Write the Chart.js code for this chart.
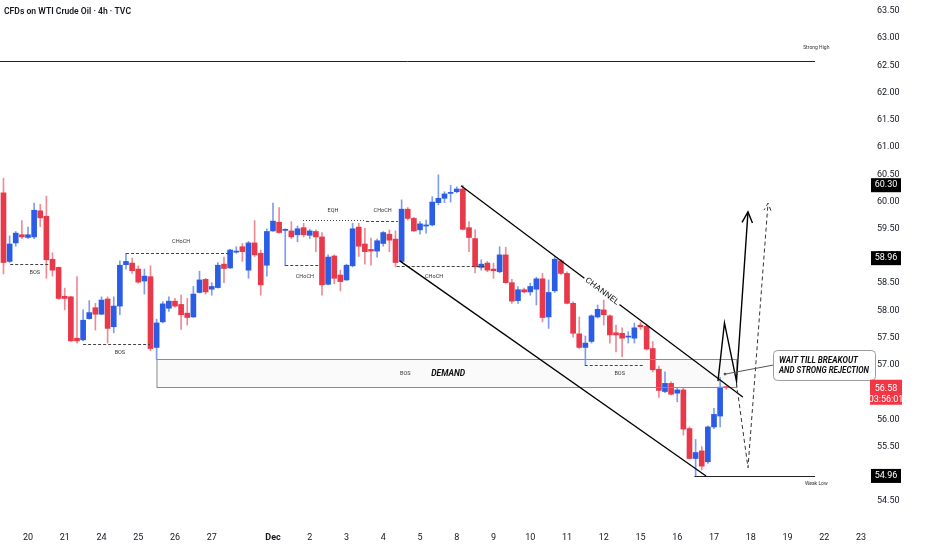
<!DOCTYPE html>
<html>
<head>
<meta charset="utf-8">
<title>CFDs on WTI Crude Oil · 4h · TVC</title>
<script src="https://cdn.jsdelivr.net/npm/chart.js@4.4.1/dist/chart.umd.min.js"></script>
<style>
  html, body { margin: 0; padding: 0; background: #fff; }
  #wrap { width: 932px; height: 550px; }
</style>
</head>
<body>
<div id="wrap"><canvas id="chart" width="932" height="550"></canvas></div>
<script>
// 4h candles, numbered 1..119 from the first bar on screen
const opens = [
  60.16, 58.90, 59.24, 59.39, 59.34, 59.35, 59.83, 59.73, 58.94, 58.79,
  58.26, 58.25, 57.49, 57.46, 57.85, 58.05, 57.93, 58.21, 57.70, 58.08,
  58.84, 58.87, 58.76, 58.54, 58.62, 57.32, 57.79, 58.04, 58.17, 58.11,
  57.95, 57.88, 58.33, 58.57, 58.39, 58.42, 58.85, 58.78, 59.07, 59.17,
  58.74, 59.24, 59.05, 58.83, 59.46, 59.62, 59.47, 59.46, 59.39, 59.52,
  59.38, 59.45, 59.35, 58.48, 59.00, 58.65, 58.56, 58.82, 59.53, 59.22,
  59.12, 59.09, 59.23, 59.40, 59.31, 58.90, 59.86, 59.69, 59.48, 59.55,
  59.57, 59.98, 60.06, 60.15, 60.18, 60.23, 59.52, 59.32, 58.79, 58.87,
  58.76, 58.71, 59.02, 58.51, 58.18, 58.38, 58.34, 58.39, 58.58, 57.88,
  58.36, 58.91, 58.68, 58.13, 57.57, 57.32, 57.43, 57.88, 58.01, 57.90,
  57.59, 57.58, 57.51, 57.49, 57.73, 57.71, 57.30, 56.92, 56.51, 56.66,
  56.48, 56.54, 55.83, 55.28, 55.42, 55.22, 55.86, 56.06, 56.60
];
const highs = [
  60.43, 59.37, 59.45, 59.65, 59.53, 59.97, 59.95, 60.10, 59.06, 58.80,
  58.41, 58.26, 58.62, 58.01, 58.18, 58.13, 58.25, 58.25, 58.25, 58.91,
  59.05, 58.96, 58.82, 58.76, 58.82, 57.84, 58.16, 58.25, 58.22, 58.28,
  58.22, 58.44, 58.72, 58.59, 58.51, 58.88, 58.98, 59.12, 59.17, 59.23,
  59.27, 59.65, 59.11, 59.50, 59.97, 59.89, 59.50, 59.63, 59.55, 59.60,
  59.49, 59.48, 59.43, 59.02, 59.02, 58.74, 58.85, 59.60, 59.60, 59.51,
  59.33, 59.31, 59.45, 59.48, 59.46, 60.03, 59.89, 59.71, 59.63, 59.66,
  60.09, 60.49, 60.18, 60.30, 60.27, 60.30, 59.63, 59.48, 58.93, 58.90,
  58.87, 59.17, 59.16, 58.57, 58.44, 58.41, 58.50, 58.61, 58.68, 58.56,
  58.99, 58.94, 58.71, 58.16, 57.88, 57.53, 57.92, 58.10, 58.19, 57.92,
  57.73, 57.68, 57.61, 57.77, 57.78, 57.75, 57.43, 56.98, 56.87, 56.69,
  56.57, 56.57, 55.86, 55.63, 55.50, 55.88, 56.20, 56.77, 56.61
];
const lows = [
  58.67, 58.88, 59.18, 59.32, 59.32, 59.32, 59.54, 58.59, 58.63, 58.20,
  58.01, 57.43, 57.40, 57.44, 57.84, 57.64, 57.92, 57.40, 57.59, 57.92,
  58.76, 58.68, 58.50, 58.30, 57.26, 57.10, 57.77, 57.98, 58.06, 57.65,
  57.73, 57.87, 58.32, 58.30, 58.28, 58.41, 58.51, 58.77, 59.05, 58.90,
  58.59, 58.99, 58.28, 58.63, 59.45, 59.42, 58.82, 59.32, 59.26, 59.35,
  59.32, 59.08, 58.28, 58.47, 58.49, 58.36, 58.55, 58.80, 58.99, 58.85,
  58.83, 58.98, 59.18, 59.08, 58.80, 58.88, 59.66, 59.45, 59.40, 59.42,
  59.55, 59.94, 59.98, 59.99, 60.16, 59.48, 59.08, 58.69, 58.74, 58.71,
  58.59, 58.69, 58.50, 58.13, 58.13, 58.32, 58.28, 58.10, 57.79, 57.67,
  58.33, 58.66, 58.12, 57.51, 57.30, 57.00, 57.40, 57.86, 57.73, 57.40,
  57.24, 57.15, 57.40, 57.40, 57.65, 57.27, 56.87, 56.40, 56.49, 56.45,
  56.32, 55.71, 55.27, 54.96, 55.07, 55.19, 55.83, 55.86, 56.55
];
const closes = [
  58.88, 59.22, 59.42, 59.35, 59.39, 59.84, 59.70, 58.93, 58.74, 58.22,
  58.22, 57.44, 57.44, 57.82, 57.96, 57.93, 58.19, 57.67, 58.08, 58.83,
  58.90, 58.73, 58.52, 58.63, 57.30, 57.77, 58.12, 58.17, 58.08, 57.92,
  57.87, 58.30, 58.56, 58.34, 58.44, 58.83, 58.77, 59.11, 59.09, 59.08,
  59.24, 59.02, 58.47, 59.45, 59.64, 59.43, 59.49, 59.35, 59.50, 59.39,
  59.46, 59.35, 58.47, 58.98, 58.59, 58.53, 58.83, 59.50, 59.18, 59.08,
  59.09, 59.28, 59.43, 59.29, 58.88, 59.86, 59.69, 59.46, 59.59, 59.57,
  59.99, 60.06, 60.14, 60.16, 60.23, 59.49, 59.34, 58.80, 58.85, 58.74,
  58.73, 59.02, 58.51, 58.17, 58.38, 58.34, 58.44, 58.58, 57.87, 58.33,
  58.94, 58.68, 58.13, 57.58, 57.32, 57.40, 57.90, 58.02, 57.92, 57.55,
  57.55, 57.49, 57.52, 57.68, 57.70, 57.29, 56.91, 56.53, 56.66, 56.46,
  56.54, 55.82, 55.28, 55.39, 55.14, 55.86, 56.09, 56.59, 56.58
];

// time axis: bar number where each day label sits
const dayTicks = [5, 11, 17, 23, 29, 35, 45, 51, 57, 63, 69, 75, 81, 87, 93, 99, 105, 111, 117, 123, 129, 135, 141];
const dayLabels = ['20', '21', '24', '25', '26', '27', 'Dec', '2', '3', '4', '5', '8', '9', '10', '11', '12', '15', '16', '17', '18', '19', '22', '23'];
const priceTicks = [54.5, 55, 55.5, 56, 56.5, 57, 57.5, 58, 58.5, 59, 59.5, 60, 60.5, 61, 61.5, 62, 62.5, 63, 63.5];

// marked prices on the right scale
const markedPrices = [60.30, 58.96, 54.96];
const lastPrice = 56.58;
const countdown = '03:56:01';

// drawings, in (bar number, price)
const strongHigh = { from: 0.43, to: 133.5, price: 62.58, text: 'Strong High', tx: 133.7, ty: 62.82 };
const weakLow = { from: 113.8, to: 133.5, price: 54.96, text: 'Weak Low', tx: 133.7, ty: 54.81 };
const demandZone = { from: 26.06, to: 120.7, top: 57.10, bottom: 56.59 };
const structureLevels = [
  { from: 2.1, to: 8.6, price: 58.85, dot: false, text: 'BOS', tx: 6.1, ty: 58.69 },
  { from: 14.0, to: 24.9, price: 57.39, dot: false, text: 'BOS', tx: 20.0, ty: 57.22 },
  { from: 21.0, to: 38.0, price: 59.05, dot: false, text: 'CHoCH', tx: 30.0, ty: 59.26 },
  { from: 47.0, to: 52.4, price: 58.83, dot: false, text: 'CHoCH', tx: 50.2, ty: 58.63 },
  { from: 49.9, to: 60.2, price: 59.66, dot: true, text: 'EQH', tx: 54.8, ty: 59.83 },
  { from: 60.2, to: 65.4, price: 59.64, dot: false, text: 'CHoCH', tx: 62.9, ty: 59.83 },
  { from: 65.2, to: 79.6, price: 58.81, dot: false, text: 'CHoCH', tx: 71.3, ty: 58.63 },
  { from: 95.9, to: 105.7, price: 57.00, dot: false, text: 'BOS', tx: 101.6, ty: 56.83 }
];
const channelUpper = [[75.7, 60.29], [121.7, 56.41]];
const channelLower = [[65.7, 58.91], [115.7, 54.96]];
const pathBreakout = [[117.65, 56.70], [118.71, 57.77], [120.67, 56.70], [122.55, 59.81]];
const pathSweep = [[120.67, 56.66], [122.55, 55.11], [125.82, 59.97]];
const callout = { from: 126.63, to: 143.29, top: 57.27, bottom: 56.72, lines: ['WAIT TILL BREAKOUT', 'AND STRONG REJECTION'], pointTo: [118.8, 56.83] };

const BULL = '#2b5ce6', BEAR = '#e8394a';
const BULL_WICK = '#7f9df0', BEAR_WICK = '#f08a94';
const TEXT = '#131722';

function isBull(i) { return closes[i] >= opens[i]; }

// text squeezed or stretched to a given width, like the condensed TV font
function putText(ctx, text, x, y, font, color, width, align) {
  ctx.save();
  ctx.font = font;
  ctx.fillStyle = color;
  ctx.textBaseline = 'middle';
  ctx.textAlign = align || 'center';
  const w = ctx.measureText(text).width;
  ctx.translate(x, y);
  if (width) ctx.scale(width / w, 1);
  ctx.fillText(text, 0, 0);
  ctx.restore();
}

function polyline(ctx, pts) {
  ctx.beginPath();
  pts.forEach((p, i) => i ? ctx.lineTo(p[0], p[1]) : ctx.moveTo(p[0], p[1]));
  ctx.stroke();
}

function arrowHead(ctx, from, tip, len) {
  const a = Math.atan2(tip[1] - from[1], tip[0] - from[0]);
  ctx.beginPath();
  ctx.moveTo(tip[0] - len * Math.cos(a - 0.45), tip[1] - len * Math.sin(a - 0.45));
  ctx.lineTo(tip[0], tip[1]);
  ctx.lineTo(tip[0] - len * Math.cos(a + 0.45), tip[1] - len * Math.sin(a + 0.45));
  ctx.stroke();
}

const drawings = {
  id: 'drawings',
  beforeDatasetsDraw(chart) {
    const { ctx, scales: { x, y } } = chart;
    ctx.save();
    ctx.fillStyle = 'rgba(120,120,120,0.04)';
    const x0 = x.getPixelForValue(demandZone.from), x1 = x.getPixelForValue(demandZone.to);
    const y0 = y.getPixelForValue(demandZone.top), y1 = y.getPixelForValue(demandZone.bottom);
    ctx.fillRect(x0, y0, x1 - x0, y1 - y0);
    ctx.restore();
  },
  afterDatasetsDraw(chart) {
    const { ctx, scales: { x, y } } = chart;
    const P = (pt) => [x.getPixelForValue(pt[0]), y.getPixelForValue(pt[1])];
    ctx.save();

    // strong high / weak low
    ctx.strokeStyle = '#222';
    ctx.lineWidth = 1;
    [strongHigh, weakLow].forEach((l) => {
      const yy = Math.round(y.getPixelForValue(l.price)) + 0.5;
      polyline(ctx, [[x.getPixelForValue(l.from), yy], [x.getPixelForValue(l.to), yy]]);
      putText(ctx, l.text, x.getPixelForValue(l.tx), y.getPixelForValue(l.ty), '5px Roboto', '#333');
    });

    // demand zone border and labels
    const zx0 = x.getPixelForValue(demandZone.from), zx1 = x.getPixelForValue(demandZone.to);
    const zy0 = Math.round(y.getPixelForValue(demandZone.top)) + 0.5;
    const zy1 = Math.round(y.getPixelForValue(demandZone.bottom)) + 0.5;
    ctx.strokeStyle = '#8c8c8c';
    ctx.strokeRect(zx0, zy0, zx1 - zx0, zy1 - zy0);
    const zMid = (demandZone.top + demandZone.bottom) / 2;
    putText(ctx, 'BOS', x.getPixelForValue(66.6), y.getPixelForValue(zMid), '5.5px Roboto', '#333');
    putText(ctx, 'DEMAND', x.getPixelForValue(73.6), y.getPixelForValue(zMid), 'italic bold 9px Roboto', '#111', 34);

    // BOS / CHoCH / EQH levels
    ctx.strokeStyle = '#444';
    structureLevels.forEach((l) => {
      ctx.setLineDash(l.dot ? [1, 2] : [3, 2]);
      const yy = Math.round(y.getPixelForValue(l.price)) + 0.5;
      polyline(ctx, [[x.getPixelForValue(l.from), yy], [x.getPixelForValue(l.to), yy]]);
      putText(ctx, l.text, x.getPixelForValue(l.tx), y.getPixelForValue(l.ty), '5.5px Roboto', '#333');
    });
    ctx.setLineDash([]);

    // channel
    ctx.strokeStyle = '#000';
    ctx.lineWidth = 1.3;
    polyline(ctx, channelUpper.map(P));
    polyline(ctx, channelLower.map(P));
    const u0 = P(channelUpper[0]), u1 = P(channelUpper[1]);
    const ang = Math.atan2(u1[1] - u0[1], u1[0] - u0[0]);
    const t = 0.5;
    const cx = u0[0] + (u1[0] - u0[0]) * t, cy = u0[1] + (u1[1] - u0[1]) * t;
    ctx.save();
    ctx.translate(cx, cy);
    ctx.rotate(ang);
    ctx.fillStyle = '#fff';
    ctx.fillRect(-22, -5, 44, 10);
    putText(ctx, 'CHANNEL', 0, 0, '8px Roboto', '#111', 40);
    ctx.restore();

    // projected paths
    ctx.lineWidth = 1.4;
    ctx.strokeStyle = '#000';
    const pb = pathBreakout.map(P);
    polyline(ctx, pb);
    arrowHead(ctx, pb[pb.length - 2], pb[pb.length - 1], 12);
    ctx.lineWidth = 1;
    ctx.strokeStyle = '#333';
    ctx.setLineDash([4, 3]);
    const ps = pathSweep.map(P);
    polyline(ctx, ps);
    arrowHead(ctx, ps[ps.length - 2], ps[ps.length - 1], 8);
    ctx.setLineDash([]);

    // callout
    const bx0 = x.getPixelForValue(callout.from), bx1 = x.getPixelForValue(callout.to);
    const by0 = y.getPixelForValue(callout.top), by1 = y.getPixelForValue(callout.bottom);
    const tip = P(callout.pointTo);
    ctx.strokeStyle = '#555';
    ctx.lineWidth = 1;
    polyline(ctx, [[bx0, (by0 + by1) / 2], tip]);
    ctx.fillStyle = '#555';
    ctx.beginPath();
    ctx.arc(tip[0], tip[1], 1.4, 0, Math.PI * 2);
    ctx.fill();
    ctx.beginPath();
    ctx.roundRect(bx0 + 0.5, Math.round(by0) + 0.5, bx1 - bx0, by1 - by0, 4);
    ctx.fillStyle = '#fff';
    ctx.fill();
    ctx.strokeStyle = '#9b9b9b';
    ctx.stroke();
    const lh = (by1 - by0) / 3;
    putText(ctx, callout.lines[0], bx0 + 6, by0 + lh * 1.05, 'italic bold 9px Roboto', '#111', 79, 'left');
    putText(ctx, callout.lines[1], bx0 + 6, by0 + lh * 2.05, 'italic bold 9px Roboto', '#111', 90, 'left');

    ctx.restore();
  },
  afterDraw(chart) {
    const { ctx, chartArea, scales: { y } } = chart;
    ctx.save();
    const left = chartArea.right + 1;
    markedPrices.forEach((p) => {
      const yy = y.getPixelForValue(p);
      ctx.fillStyle = '#000';
      ctx.fillRect(left, yy - 7, 30, 14);
      putText(ctx, p.toFixed(2), left + 15, yy, '9px Roboto', '#fff');
    });
    const ly = y.getPixelForValue(lastPrice);
    ctx.fillStyle = '#f23645';
    ctx.fillRect(left - 1, ly - 8, 32, 25);
    putText(ctx, lastPrice.toFixed(2), left + 15, ly + 1, '9px Roboto', '#fff');
    putText(ctx, countdown, left + 15, ly + 12, '9px Roboto', '#fff');

    putText(ctx, 'CFDs on WTI Crude Oil · 4h · TVC', 4, chartArea.top + 12, '600 9px Roboto', TEXT, 127, 'left');
    ctx.restore();
  }
};

const bars = opens.map((o, i) => i + 1);

new Chart(document.getElementById('chart'), {
  type: 'bar',
  data: {
    datasets: [{
      label: 'body',
      data: bars.map((k, i) => ({ x: k, y: [opens[i], closes[i]] })),
      backgroundColor: (c) => isBull(c.dataIndex) ? BULL : BEAR,
      barThickness: 5,
      minBarLength: 1,
      grouped: false,
      borderWidth: 0,
      order: 1
    }, {
      label: 'wick',
      data: bars.map((k, i) => ({ x: k, y: [lows[i], highs[i]] })),
      backgroundColor: (c) => isBull(c.dataIndex) ? BULL_WICK : BEAR_WICK,
      barThickness: 1,
      grouped: false,
      borderWidth: 0,
      order: 2
    }]
  },
  options: {
    responsive: false,
    animation: false,
    layout: { padding: 0 },
    plugins: { legend: { display: false }, tooltip: { enabled: false } },
    scales: {
      x: {
        type: 'linear',
        min: 0.43,
        max: 142.47,
        offset: false,
        grid: { display: false, drawTicks: false },
        border: { display: false },
        afterBuildTicks: (s) => { s.ticks = dayTicks.map((v) => ({ value: v })); },
        afterFit: (s) => { s.height = 26; s.paddingLeft = 0; s.paddingRight = 0; },
        ticks: {
          autoSkip: false,
          maxRotation: 0,
          padding: 8,
          color: TEXT,
          font: (c) => ({ family: 'Roboto', size: 9, weight: dayLabels[c.index] === 'Dec' ? 'bold' : 'normal' }),
          callback: (v, i) => dayLabels[i]
        }
      },
      y: {
        position: 'right',
        min: 54.077,
        max: 63.702,
        stacked: false,
        grid: { display: false, drawTicks: false },
        border: { display: false },
        afterBuildTicks: (s) => { s.ticks = priceTicks.map((v) => ({ value: v })); },
        afterFit: (s) => { s.width = 62; s.paddingTop = 0; s.paddingBottom = 0; },
        ticks: {
          padding: 7,
          color: TEXT,
          font: { family: 'Roboto', size: 9 },
          callback: (v) => Number(v).toFixed(2)
        }
      }
    }
  },
  plugins: [drawings]
});
</script>
</body>
</html>
